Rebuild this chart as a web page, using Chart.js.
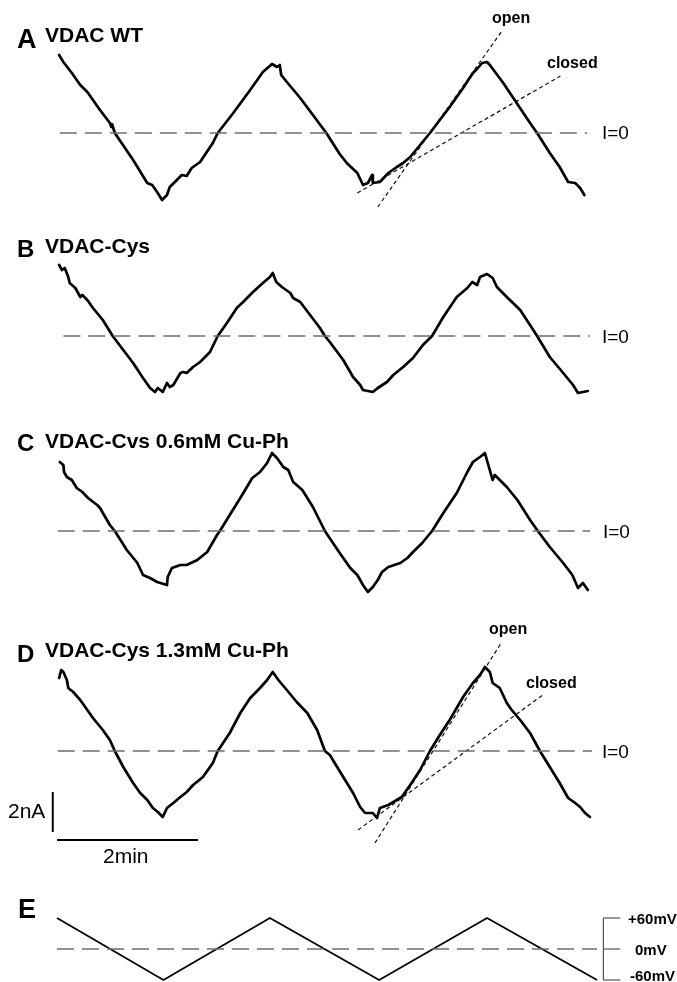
<!DOCTYPE html>
<html>
<head>
<meta charset="utf-8">
<script src="https://cdn.jsdelivr.net/npm/chart.js@4/dist/chart.umd.min.js"></script>
<style>
  html, body { margin: 0; padding: 0; background: #fff; }
  #wrap { position: relative; width: 677px; height: 982px; overflow: hidden; }
  #c { position: absolute; left: 0; top: 0; }
  .t { position: absolute; line-height: 1; white-space: nowrap; color: #000;
       font-family: "Liberation Sans", Arial, sans-serif; }
  .b { font-weight: bold; }
</style>
</head>
<body>
<div id="wrap">
  <canvas id="c" width="677" height="982"></canvas>
  <div class="t b" style="left:17px;top:26px;font-size:27px;">A</div>
  <div class="t b" style="left:45px;top:24px;font-size:21px;">VDAC WT</div>
  <div class="t b" style="left:492px;top:10px;font-size:16px;">open</div>
  <div class="t b" style="left:547px;top:55px;font-size:16px;">closed</div>
  <div class="t" style="left:602px;top:123px;font-size:19px;">I=0</div>

  <div class="t b" style="left:17px;top:237px;font-size:24px;">B</div>
  <div class="t b" style="left:45px;top:235px;font-size:21px;">VDAC-Cys</div>
  <div class="t" style="left:602px;top:327px;font-size:19px;">I=0</div>

  <div class="t b" style="left:17px;top:431px;font-size:24px;">C</div>
  <div class="t b" style="left:45px;top:430px;font-size:21px;">VDAC-Cvs 0.6mM Cu-Ph</div>
  <div class="t" style="left:603px;top:522px;font-size:19px;">I=0</div>

  <div class="t b" style="left:17px;top:642px;font-size:24px;">D</div>
  <div class="t b" style="left:45px;top:639px;font-size:21px;">VDAC-Cys 1.3mM Cu-Ph</div>
  <div class="t b" style="left:489px;top:621px;font-size:16px;">open</div>
  <div class="t b" style="left:526px;top:675px;font-size:16px;">closed</div>
  <div class="t" style="left:602px;top:742px;font-size:19px;">I=0</div>

  <div class="t" style="left:8px;top:800px;font-size:21px;">2nA</div>
  <div class="t" style="left:103px;top:845px;font-size:21px;">2min</div>

  <div class="t b" style="left:18px;top:896px;font-size:27px;">E</div>
  <div class="t b" style="left:628px;top:911px;font-size:15px;">+60mV</div>
  <div class="t b" style="left:635px;top:942px;font-size:15px;">0mV</div>
  <div class="t b" style="left:630px;top:968px;font-size:15px;">-60mV</div>
</div>
<script>
// ---------------- data (time in min, current in nA, voltage in mV) ----------------
const tA = [0.03,0.09,0.21,0.33,0.43,0.61,0.75,0.77,0.78,0.82,1.08,1.28,1.35,1.42,1.49,1.56,1.60,1.70,1.77,1.84,1.91,2.03,2.21,2.28,2.50,2.74,2.92,3.05,3.12,3.16,3.18,3.26,3.45,3.63,3.82,4.01,4.11,4.26,4.34,4.41,4.47,4.48,4.58,4.70,4.82,4.91,5.01,5.15,5.29,5.43,5.57,5.76,5.90,5.97,6.03,6.10,6.14,6.33,6.52,6.71,6.81,6.99,7.13,7.25,7.35,7.42,7.48];
const iA = [3.90,3.55,3.00,2.40,2.05,1.15,0.50,0.30,0.45,0.00,-1.35,-2.50,-2.60,-2.95,-3.35,-3.10,-2.70,-2.35,-2.10,-2.15,-1.75,-1.45,-0.50,0.00,1.00,2.15,3.05,3.45,3.30,3.40,2.90,2.55,1.75,0.90,0.00,-1.05,-1.50,-2.00,-2.60,-2.50,-2.10,-2.50,-2.45,-2.00,-1.70,-1.50,-1.20,-0.60,0.00,0.65,1.30,2.25,3.00,3.25,3.50,3.55,3.40,2.50,1.50,0.50,0.00,-1.00,-1.70,-2.45,-2.50,-2.75,-3.10];

const tB = [0.03,0.07,0.11,0.16,0.18,0.26,0.33,0.36,0.43,0.51,0.65,0.79,0.94,1.08,1.22,1.32,1.39,1.43,1.50,1.56,1.60,1.65,1.75,1.79,1.84,1.93,2.03,2.17,2.28,2.41,2.55,2.64,2.78,2.92,3.02,3.06,3.11,3.19,3.31,3.35,3.45,3.59,3.73,3.80,3.87,4.06,4.20,4.30,4.34,4.48,4.55,4.68,4.77,4.91,5.05,5.19,5.32,5.48,5.67,5.82,5.89,5.96,6.00,6.10,6.18,6.24,6.38,6.57,6.71,6.81,6.99,7.18,7.32,7.39,7.46,7.53];
const iB = [3.55,3.30,3.40,2.95,2.65,2.40,1.95,2.05,1.80,1.40,0.80,0.00,-0.70,-1.35,-2.10,-2.60,-2.80,-2.60,-2.80,-2.35,-2.55,-2.45,-1.85,-1.80,-1.85,-1.55,-1.30,-0.80,0.00,0.65,1.40,1.70,2.20,2.65,2.95,3.15,2.70,2.45,2.15,1.90,1.70,1.05,0.40,0.00,-0.30,-1.20,-2.05,-2.45,-2.70,-2.80,-2.60,-2.30,-1.95,-1.55,-1.10,-0.45,0.00,0.95,1.95,2.40,2.70,2.55,2.95,3.10,2.90,2.45,1.95,1.30,0.55,0.00,-1.05,-1.85,-2.45,-2.85,-2.80,-2.75];

const tC = [0.04,0.09,0.10,0.14,0.21,0.28,0.36,0.44,0.57,0.61,0.75,0.82,0.99,1.14,1.22,1.32,1.42,1.56,1.57,1.63,1.75,1.84,1.99,2.13,2.27,2.31,2.45,2.60,2.77,2.88,2.98,3.05,3.12,3.21,3.28,3.35,3.48,3.63,3.80,4.01,4.16,4.26,4.34,4.41,4.48,4.55,4.61,4.70,4.87,4.97,5.05,5.18,5.32,5.48,5.67,5.82,5.90,6.00,6.07,6.11,6.18,6.21,6.38,6.53,6.71,6.82,6.99,7.18,7.31,7.39,7.46,7.53];
const iC = [3.45,3.30,2.95,2.70,2.55,2.15,1.95,1.65,1.30,1.15,0.30,0.00,-0.95,-1.60,-2.20,-2.35,-2.55,-2.70,-2.30,-1.85,-1.70,-1.70,-1.45,-1.05,-0.20,0.00,0.80,1.65,2.65,2.95,3.40,3.90,3.65,3.20,3.05,2.45,2.05,1.20,0.00,-1.10,-1.85,-2.20,-2.70,-3.05,-2.80,-2.45,-2.05,-1.80,-1.60,-1.35,-1.05,-0.60,0.00,0.90,1.90,2.95,3.45,3.70,3.90,3.40,2.55,2.80,2.20,1.55,0.55,0.00,-0.80,-1.60,-2.20,-2.85,-2.60,-2.95];

const tD = [0.03,0.06,0.09,0.14,0.16,0.23,0.33,0.43,0.51,0.65,0.75,0.82,0.94,1.08,1.18,1.28,1.36,1.43,1.50,1.56,1.65,1.75,1.84,1.93,2.07,2.21,2.28,2.45,2.60,2.74,2.88,2.98,3.06,3.14,3.26,3.40,3.55,3.69,3.80,3.87,4.06,4.20,4.30,4.37,4.48,4.54,4.58,4.70,4.82,4.89,5.01,5.15,5.29,5.43,5.57,5.76,5.90,6.00,6.07,6.14,6.18,6.28,6.38,6.45,6.57,6.71,6.85,6.99,7.13,7.25,7.35,7.42,7.49,7.56];
const iD = [3.65,4.05,3.95,3.55,3.15,2.95,2.55,2.05,1.65,1.05,0.55,0.00,-0.80,-1.60,-2.10,-2.45,-2.85,-3.05,-3.30,-2.85,-2.60,-2.30,-2.05,-1.70,-1.30,-0.60,0.00,0.90,1.90,2.65,3.15,3.55,3.95,3.55,3.05,2.45,1.90,1.05,0.00,-0.20,-1.30,-2.10,-2.80,-3.10,-3.10,-3.35,-2.85,-2.70,-2.45,-2.30,-1.70,-0.95,0.00,0.80,1.55,2.70,3.40,3.80,4.20,3.95,3.40,3.15,2.40,2.05,1.55,0.90,0.00,-0.80,-1.60,-2.35,-2.60,-2.80,-3.10,-3.30];

// voltage ramp (panel E)
const tE = [0, 1.51, 3.02, 4.57, 6.10, 7.66];
const vE = [60, -60, 60, -60, 60, -60];
const vTicks = [60, 0, -60];

// fitted slopes ("open" / "closed") in panels A and D
const openA_t = [4.55, 6.30],  openA_i = [-3.70, 5.05];
const closedA_t = [4.26, 7.14], closedA_i = [-3.00, 2.85];
const openD_t = [4.51, 6.30],  openD_i = [-4.60, 5.40];
const closedD_t = [4.27, 6.89], closedD_i = [-3.95, 2.80];

// I=0 reference line extents (min)
const zeroA = [0.04, 7.52], zeroB = [0.09, 7.56], zeroC = [0.01, 7.56], zeroD = [0.01, 7.59], zeroE = [0, 7.66];

// scale bars: 2 nA, 2 min
const barCurrent = 2, barTime = 2;

// ---------------- layout ----------------
const W = 677, H = 982;
const X0 = 57, PX_PER_MIN = 70.5, PX_PER_NA = 20, PX_PER_MV = 31 / 60;
const zeroPx = { yA: 133, yB: 336, yC: 531, yD: 751 };
const zeroPxE = 949;

function currentAxis(z) { return { type: 'linear', display: false, min: (z - H) / PX_PER_NA, max: z / PX_PER_NA }; }

const pts = (ts, vs) => ts.map((t, k) => ({ x: t, y: vs[k] }));
const hline = (span, v) => [{ x: span[0], y: v }, { x: span[1], y: v }];

const trace = (ts, vs, ax) => ({ data: pts(ts, vs), yAxisID: ax, borderColor: '#000', borderWidth: 2.7,
  showLine: true, pointRadius: 0, borderJoinStyle: 'round', borderCapStyle: 'round', tension: 0 });
const zero = (span, ax) => ({ data: hline(span, 0), yAxisID: ax, borderColor: '#6e6e6e', borderWidth: 1.5,
  borderDash: [17, 8], showLine: true, pointRadius: 0 });
const dotted = (ts, vs, ax) => ({ data: pts(ts, vs), yAxisID: ax, borderColor: '#111', borderWidth: 1.2,
  borderDash: [4, 3], showLine: true, pointRadius: 0 });
const solid = (data, ax, w, c) => ({ data, yAxisID: ax, borderColor: c || '#000', borderWidth: w,
  showLine: true, pointRadius: 0, borderCapStyle: 'butt' });

// scale bar anchor (in panel D units)
const barT = -0.06, barTop = -2.05, barY = -4.45;
// bracket of panel E
const brT0 = 7.75, brT1 = 7.99;

const datasets = [
  zero(zeroA, 'yA'), zero(zeroB, 'yB'), zero(zeroC, 'yC'), zero(zeroD, 'yD'), zero(zeroE, 'yE'),
  dotted(openA_t, openA_i, 'yA'), dotted(closedA_t, closedA_i, 'yA'),
  dotted(openD_t, openD_i, 'yD'), dotted(closedD_t, closedD_i, 'yD'),
  trace(tA, iA, 'yA'), trace(tB, iB, 'yB'), trace(tC, iC, 'yC'), trace(tD, iD, 'yD'),
  solid([{ x: barT, y: barTop }, { x: barT, y: barTop - barCurrent }], 'yD', 2),
  solid([{ x: 0, y: barY }, { x: barTime, y: barY }], 'yD', 2),
  solid(pts(tE, vE), 'yE', 1.8),
  solid([{ x: brT0, y: vTicks[0] }, { x: brT0, y: vTicks[2] }], 'yE', 1.2, '#555'),
  ...vTicks.map(v => solid(hline([brT0, brT1], v), 'yE', 1.2, '#555'))
];

new Chart(document.getElementById('c'), {
  type: 'scatter',
  data: { datasets },
  options: {
    responsive: false, animation: false, devicePixelRatio: 1,
    layout: { padding: 0 },
    plugins: { legend: { display: false }, tooltip: { enabled: false }, title: { display: false } },
    events: [],
    scales: {
      x: { type: 'linear', display: false, min: -X0 / PX_PER_MIN, max: (W - X0) / PX_PER_MIN },
      yA: currentAxis(zeroPx.yA), yB: currentAxis(zeroPx.yB),
      yC: currentAxis(zeroPx.yC), yD: currentAxis(zeroPx.yD),
      yE: { type: 'linear', display: false, min: (zeroPxE - H) / PX_PER_MV, max: zeroPxE / PX_PER_MV }
    }
  }
});
</script>
</body>
</html>
